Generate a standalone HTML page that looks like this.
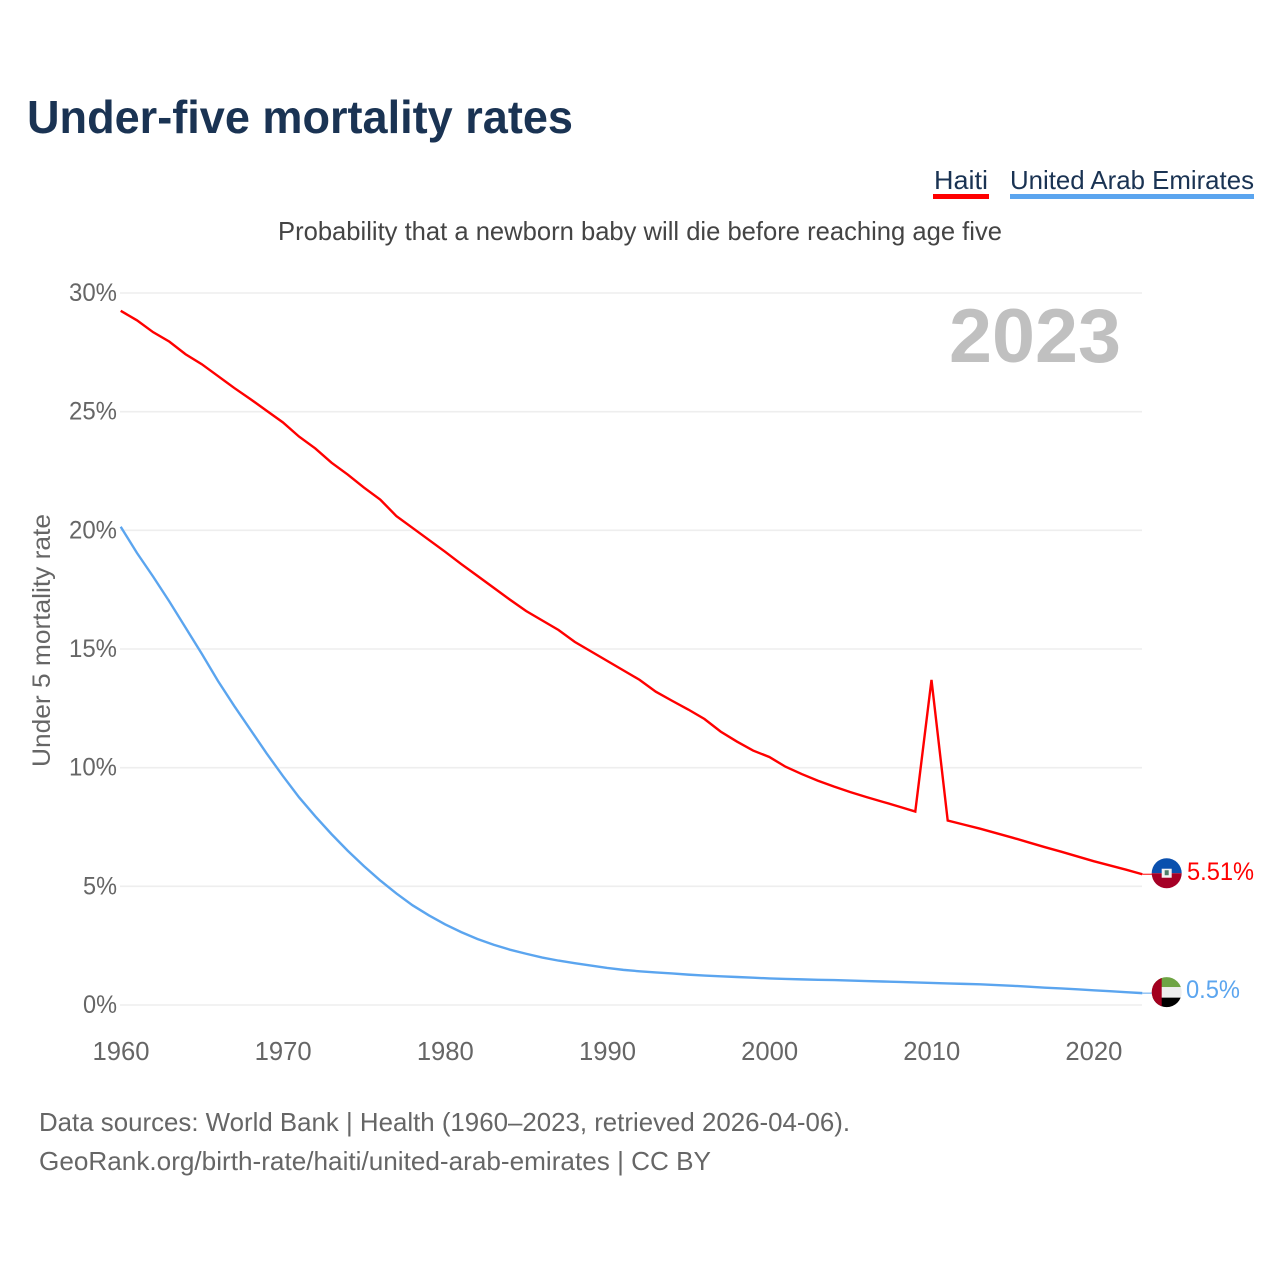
<!DOCTYPE html>
<html lang="en">
<head>
<meta charset="utf-8">
<title>Under-five mortality rates</title>
<style>
html,body{margin:0;padding:0;background:#fff;}
svg{display:block;font-family:"Liberation Sans",sans-serif;}
text{white-space:pre;}
</style>
</head>
<body>
<svg id="chart" xmlns="http://www.w3.org/2000/svg" width="1280" height="1280" viewBox="0 0 1280 1280">
  <defs>
    <clipPath id="flag-clip"><circle cx="0" cy="0" r="15"></circle></clipPath>
  </defs>
  <rect x="0" y="0" width="1280" height="1280" fill="#fff"></rect>
  <text x="27" y="133" font-size="46" font-weight="700" fill="#1a3353" textLength="546" lengthAdjust="spacingAndGlyphs">Under-five mortality rates</text>

  <g>
    <g>
      <text x="934" y="189" font-size="26" fill="#1a3353" textLength="54" lengthAdjust="spacingAndGlyphs">Haiti</text>
      <rect x="933" y="194" width="56" height="5" fill="#ff0000"></rect>
    </g>
    <g>
      <text x="1010" y="189" font-size="26" fill="#1a3353" textLength="244" lengthAdjust="spacingAndGlyphs">United Arab Emirates</text>
      <rect x="1010" y="194" width="244" height="5" fill="#5ba5ef"></rect>
    </g>
  </g>

  <text x="278" y="240" font-size="26" fill="#444444" textLength="724" lengthAdjust="spacingAndGlyphs">Probability that a newborn baby will die before reaching age five</text>

  <g id="grid"></g>
  <g id="y-ticks"></g>
  <g id="x-ticks"></g>

  <text x="949" y="362" font-size="76" font-weight="700" fill="#c0c0c0" textLength="172" lengthAdjust="spacingAndGlyphs">2023</text>

  <text transform="translate(50,767) rotate(-90)" x="0" y="0" font-size="25" fill="#666666" textLength="253" lengthAdjust="spacingAndGlyphs">Under 5 mortality rate</text>

  <g id="series"></g>
  <g id="end-markers"></g>

  <text x="39" y="1131" font-size="26" fill="#666666" textLength="811" lengthAdjust="spacingAndGlyphs">Data sources: World Bank | Health (1960–2023, retrieved 2026-04-06).</text>
  <text x="39" y="1170" font-size="26" fill="#666666" textLength="672" lengthAdjust="spacingAndGlyphs">GeoRank.org/birth-rate/haiti/united-arab-emirates | CC BY</text>
</svg>
<script>
const years = [1960,1961,1962,1963,1964,1965,1966,1967,1968,1969,1970,1971,1972,1973,1974,1975,1976,1977,1978,1979,1980,1981,1982,1983,1984,1985,1986,1987,1988,1989,1990,1991,1992,1993,1994,1995,1996,1997,1998,1999,2000,2001,2002,2003,2004,2005,2006,2007,2008,2009,2010,2011,2012,2013,2014,2015,2016,2017,2018,2019,2020,2021,2022,2023];
const haitiValues = [29.25,28.85,28.35,27.95,27.42,27.0,26.5,26.0,25.53,25.04,24.55,23.95,23.45,22.85,22.35,21.8,21.3,20.6,20.1,19.6,19.1,18.58,18.08,17.58,17.08,16.6,16.2,15.8,15.3,14.9,14.5,14.1,13.7,13.2,12.82,12.45,12.05,11.52,11.1,10.72,10.45,10.04,9.73,9.45,9.2,8.97,8.76,8.56,8.36,8.15,13.7,7.77,7.6,7.43,7.24,7.05,6.85,6.65,6.46,6.26,6.06,5.88,5.7,5.51];
const uaeValues = [20.15,19.05,18.05,17.0,15.9,14.8,13.65,12.6,11.6,10.6,9.65,8.75,7.95,7.2,6.5,5.85,5.25,4.7,4.2,3.78,3.4,3.07,2.78,2.54,2.33,2.16,2.0,1.87,1.76,1.66,1.56,1.48,1.42,1.37,1.33,1.28,1.24,1.21,1.18,1.15,1.12,1.1,1.08,1.06,1.05,1.03,1.01,0.99,0.97,0.95,0.93,0.91,0.89,0.87,0.84,0.81,0.77,0.73,0.7,0.66,0.62,0.58,0.54,0.5];
const yTickValues = [0,5,10,15,20,25,30];
const yTickLabels = ["0%","5%","10%","15%","20%","25%","30%"];
const xTickValues = [1960,1970,1980,1990,2000,2010,2020];
const xTickLabels = ["1960","1970","1980","1990","2000","2010","2020"];
const haitiEndLabel = "5.51%";
const uaeEndLabel = "0.5%";

const NS = "http://www.w3.org/2000/svg";
const xScale = function (year) { return 120.7 + (year - 1960) * (1142.3 - 120.7) / 63; };
const yScale = function (v) { return 1005 - v * (1005 - 293) / 30; };

function svgEl(tag, parent, attrs) {
  const el = document.createElementNS(NS, tag);
  Object.keys(attrs).forEach(function (k) { el.setAttribute(k, attrs[k]); });
  parent.appendChild(el);
  return el;
}

const gridG = document.getElementById("grid");
const yTickG = document.getElementById("y-ticks");
yTickValues.forEach(function (v, i) {
  const line = svgEl("line", gridG, { x1: 120, x2: 1142, y1: yScale(v), y2: yScale(v), stroke: "#eeeeee", "stroke-width": 1.6 });
  
  
  const label = yTickLabels[i];
  const t = svgEl("text", yTickG, { x: 117 - (label.length * 14 + 6), y: yScale(v) + 8, "font-size": 25, fill: "#666666", textLength: label.length * 14 + 6, lengthAdjust: "spacingAndGlyphs" });
  t.textContent = label;
  
  
});

const xTickG = document.getElementById("x-ticks");
xTickValues.forEach(function (v, i) {
  const t = svgEl("text", xTickG, { x: xScale(v) - 28.2, y: 1060, "font-size": 25.5, fill: "#666666", textLength: 57, lengthAdjust: "spacingAndGlyphs" });
  t.textContent = xTickLabels[i];
  
  
});

function linePoints(values) {
  return values.map(function (v, i) { return xScale(years[i]).toFixed(2) + "," + yScale(v).toFixed(2); }).join(" ");
}

const seriesG = document.getElementById("series");
const haitiLine = svgEl("polyline", seriesG, { points: linePoints(haitiValues), fill: "none", stroke: "#ff0000", "stroke-width": 2.4, "stroke-linejoin": "miter" });


const uaeLine = svgEl("polyline", seriesG, { points: linePoints(uaeValues), fill: "none", stroke: "#5ba5ef", "stroke-width": 2.4, "stroke-linejoin": "miter" });



const markers = document.getElementById("end-markers");
const lastX = xScale(years[years.length - 1]);
const haitiY = yScale(haitiValues[haitiValues.length - 1]);
const uaeY = yScale(uaeValues[uaeValues.length - 1]);

const haitiConn = svgEl("line", markers, { x1: lastX, x2: 1152, y1: haitiY, y2: haitiY, stroke: "#ff0000", "stroke-width": 1 });


const uaeConn = svgEl("line", markers, { x1: lastX, x2: 1152, y1: uaeY, y2: uaeY, stroke: "#5ba5ef", "stroke-width": 1 });



const haitiFlag = svgEl("g", markers, { transform: "translate(1166.7," + (haitiY - 1) + ")", "clip-path": "url(#flag-clip)" });


svgEl("rect", haitiFlag, { x: -16, y: -16, width: 32, height: 16, fill: "#0a50ae" });
svgEl("rect", haitiFlag, { x: -16, y: 0, width: 32, height: 16, fill: "#a50026" });
svgEl("rect", haitiFlag, { x: -5, y: -4.5, width: 10, height: 9, fill: "#f4f4f4" });
svgEl("rect", haitiFlag, { x: -2, y: -3, width: 4, height: 5, fill: "#4f7f6a" });

const uaeFlag = svgEl("g", markers, { transform: "translate(1166.7," + (uaeY - 1) + ")", "clip-path": "url(#flag-clip)" });


svgEl("rect", uaeFlag, { x: -16, y: -16, width: 32, height: 11, fill: "#6ea444" });
svgEl("rect", uaeFlag, { x: -16, y: -5, width: 32, height: 10.5, fill: "#eeeeee" });
svgEl("rect", uaeFlag, { x: -16, y: 5.5, width: 32, height: 11, fill: "#000000" });
svgEl("rect", uaeFlag, { x: -16, y: -16, width: 11, height: 32, fill: "#a3001f" });

const haitiValueLabel = svgEl("text", markers, { x: 1187, y: haitiY + 6, "font-size": 25, fill: "#ff0000", textLength: 67, lengthAdjust: "spacingAndGlyphs" });
haitiValueLabel.textContent = haitiEndLabel;


const uaeValueLabel = svgEl("text", markers, { x: 1186, y: uaeY + 5, "font-size": 25, fill: "#5ba5ef", textLength: 54, lengthAdjust: "spacingAndGlyphs" });
uaeValueLabel.textContent = uaeEndLabel;


</script>
</body>
</html>
